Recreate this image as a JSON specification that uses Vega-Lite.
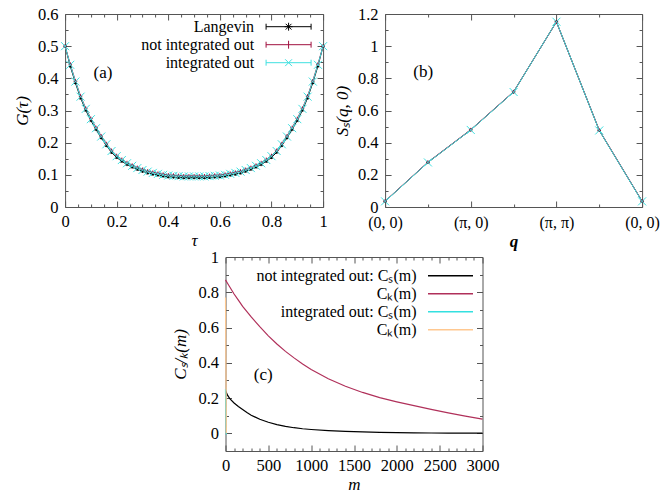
{
 "$schema": "https://vega.github.io/schema/vega-lite/v6.json",
 "padding": {"left": 12, "top": 5, "right": 5, "bottom": 5},
 "spacing": -2,
 "center": true,
 "resolve": {"scale": {"color": "independent", "shape": "independent"}, "legend": {"color": "independent", "shape": "independent"}},
 "datasets": {
  "a": [
   {"t":0,"s1":0.5,"s2":0.5,"s3":0.5},
   {"t":0.02,"s1":0.438,"s2":0.444,"s3":0.442},
   {"t":0.04,"s1":0.386,"s2":0.392,"s3":0.39},
   {"t":0.06,"s1":0.339,"s2":0.345,"s3":0.343},
   {"t":0.08,"s1":0.301,"s2":0.307,"s3":0.305},
   {"t":0.1,"s1":0.269,"s2":0.275,"s3":0.273},
   {"t":0.12,"s1":0.241,"s2":0.247,"s3":0.245},
   {"t":0.14,"s1":0.215,"s2":0.221,"s3":0.219},
   {"t":0.16,"s1":0.191,"s2":0.197,"s3":0.195},
   {"t":0.18,"s1":0.17,"s2":0.176,"s3":0.174},
   {"t":0.2,"s1":0.154,"s2":0.16,"s3":0.158},
   {"t":0.22,"s1":0.142,"s2":0.148,"s3":0.146},
   {"t":0.24,"s1":0.132,"s2":0.138,"s3":0.136},
   {"t":0.26,"s1":0.124,"s2":0.13,"s3":0.128},
   {"t":0.28,"s1":0.117,"s2":0.123,"s3":0.121},
   {"t":0.3,"s1":0.111,"s2":0.117,"s3":0.115},
   {"t":0.32,"s1":0.106,"s2":0.112,"s3":0.11},
   {"t":0.34,"s1":0.102,"s2":0.108,"s3":0.106},
   {"t":0.36,"s1":0.099,"s2":0.105,"s3":0.103},
   {"t":0.38,"s1":0.096,"s2":0.102,"s3":0.1},
   {"t":0.4,"s1":0.094,"s2":0.1,"s3":0.098},
   {"t":0.42,"s1":0.093,"s2":0.099,"s3":0.097},
   {"t":0.44,"s1":0.092,"s2":0.098,"s3":0.096},
   {"t":0.46,"s1":0.091,"s2":0.097,"s3":0.095},
   {"t":0.48,"s1":0.091,"s2":0.097,"s3":0.095},
   {"t":0.5,"s1":0.091,"s2":0.097,"s3":0.095},
   {"t":0.52,"s1":0.091,"s2":0.097,"s3":0.095},
   {"t":0.54,"s1":0.091,"s2":0.097,"s3":0.095},
   {"t":0.56,"s1":0.092,"s2":0.098,"s3":0.096},
   {"t":0.58,"s1":0.093,"s2":0.099,"s3":0.097},
   {"t":0.6,"s1":0.094,"s2":0.1,"s3":0.098},
   {"t":0.62,"s1":0.096,"s2":0.102,"s3":0.1},
   {"t":0.64,"s1":0.099,"s2":0.105,"s3":0.103},
   {"t":0.66,"s1":0.102,"s2":0.108,"s3":0.106},
   {"t":0.68,"s1":0.106,"s2":0.112,"s3":0.11},
   {"t":0.7,"s1":0.111,"s2":0.117,"s3":0.115},
   {"t":0.72,"s1":0.117,"s2":0.123,"s3":0.121},
   {"t":0.74,"s1":0.124,"s2":0.13,"s3":0.128},
   {"t":0.76,"s1":0.132,"s2":0.138,"s3":0.136},
   {"t":0.78,"s1":0.142,"s2":0.148,"s3":0.146},
   {"t":0.8,"s1":0.154,"s2":0.16,"s3":0.158},
   {"t":0.82,"s1":0.17,"s2":0.176,"s3":0.174},
   {"t":0.84,"s1":0.191,"s2":0.197,"s3":0.195},
   {"t":0.86,"s1":0.215,"s2":0.221,"s3":0.219},
   {"t":0.88,"s1":0.241,"s2":0.247,"s3":0.245},
   {"t":0.9,"s1":0.269,"s2":0.275,"s3":0.273},
   {"t":0.92,"s1":0.301,"s2":0.307,"s3":0.305},
   {"t":0.94,"s1":0.339,"s2":0.345,"s3":0.343},
   {"t":0.96,"s1":0.386,"s2":0.392,"s3":0.39},
   {"t":0.98,"s1":0.438,"s2":0.444,"s3":0.442},
   {"t":1,"s1":0.5,"s2":0.5,"s3":0.5}
  ],
  "b": [
   {"i":0,"s1":0.035,"s2":0.037,"s3":0.035},
   {"i":1,"s1":0.277,"s2":0.279,"s3":0.277},
   {"i":2,"s1":0.479,"s2":0.481,"s3":0.479},
   {"i":3,"s1":0.715,"s2":0.717,"s3":0.715},
   {"i":4,"s1":1.152,"s2":1.15,"s3":1.152},
   {"i":5,"s1":0.476,"s2":0.478,"s3":0.476},
   {"i":6,"s1":0.035,"s2":0.037,"s3":0.035}
  ],
  "c": [
   {"m":0,"c1":0.243,"c2":0.87,"c3":0.25,"c4":0.77},
   {"m":10,"c1":0.232,"c2":0.862,"c3":-0.006,"c4":0},
   {"m":25,"c1":0.215,"c2":0.85},
   {"m":50,"c1":0.197,"c2":0.83},
   {"m":100,"c1":0.172,"c2":0.79},
   {"m":150,"c1":0.152,"c2":0.755},
   {"m":200,"c1":0.135,"c2":0.72},
   {"m":250,"c1":0.118,"c2":0.69},
   {"m":300,"c1":0.103,"c2":0.66},
   {"m":400,"c1":0.08,"c2":0.605},
   {"m":500,"c1":0.063,"c2":0.553,"c3":-0.006,"c4":0},
   {"m":600,"c1":0.05,"c2":0.507},
   {"m":700,"c1":0.04,"c2":0.465},
   {"m":800,"c1":0.032,"c2":0.428},
   {"m":900,"c1":0.026,"c2":0.393},
   {"m":1000,"c1":0.022,"c2":0.362,"c3":-0.006,"c4":0},
   {"m":1200,"c1":0.016,"c2":0.31},
   {"m":1400,"c1":0.011,"c2":0.267},
   {"m":1600,"c1":0.008,"c2":0.232},
   {"m":1800,"c1":0.006,"c2":0.203},
   {"m":2000,"c1":0.004,"c2":0.179,"c3":-0.006,"c4":0},
   {"m":2200,"c1":0.003,"c2":0.157},
   {"m":2400,"c1":0.002,"c2":0.136},
   {"m":2600,"c1":0.001,"c2":0.116},
   {"m":2800,"c1":0.001,"c2":0.098},
   {"m":3000,"c1":0.001,"c2":0.081,"c3":-0.006,"c4":0}
  ]
 },
 "vconcat": [
  {
   "spacing": 2,
   "resolve": {"scale": {"color": "independent", "shape": "independent"}, "legend": {"color": "independent", "shape": "independent"}},
   "hconcat": [
    {
     "width": 258, "height": 193,
     "layer": [
      {
       "data": {"name": "a"},
       "transform": [{"fold": ["s1","s2","s3"], "as": ["series","G"]}],
       "mark": {"type": "line", "strokeWidth": 1},
       "encoding": {
        "x": {"field": "t", "type": "quantitative", "scale": {"domain": [0,1], "nice": false},
         "axis": {"values": [0,0.05,0.1,0.15,0.2,0.25,0.3,0.35,0.4,0.45,0.5,0.55,0.6,0.65,0.7,0.75,0.8,0.85,0.9,0.95,1], "titlePadding": 0, "labelPadding": 12,
          "labelExpr": "abs(datum.value*5-round(datum.value*5))<1e-6 ? format(datum.value,'.1~f') : ''",
          "tickSize": {"condition": {"test": "abs(datum.value*5-round(datum.value*5))<1e-6", "value": -6}, "value": -3},
          "title": "τ"}},
        "y": {"field": "G", "type": "quantitative", "scale": {"domain": [0,0.6], "nice": false},
         "axis": {"values": [0,0.05,0.1,0.15,0.2,0.25,0.3,0.35,0.4,0.45,0.5,0.55,0.6], "labelPadding": 13, "titlePadding": 6,
          "labelExpr": "abs(datum.value*10-round(datum.value*10))<1e-6 ? format(datum.value,'.1~f') : ''",
          "tickSize": {"condition": {"test": "abs(datum.value*10-round(datum.value*10))<1e-6", "value": -6}, "value": -3},
          "title": "G(τ)"}},
        "color": {"field": "series", "type": "nominal", "scale": {"domain": ["s1","s2","s3"], "range": ["#000000","#a0103f","#40e0e0"]},
         "legend": {"orient": "none", "legendX": 214, "legendY": 3.2, "title": null,
          "labelExpr": "datum.value === 's1' ? 'Langevin' : datum.value === 's2' ? 'not integrated out' : 'integrated out'",
          "symbolType": "M-2.5,0H2.5", "symbolSize": 324, "rowPadding": 0, "labelAlign": "right", "labelOffset": -44, "padding": 0,
          "symbolStrokeWidth": 1, "labelLimit": 400, "labelFontSize": 16,
          "encode": {"symbols": {"update": {"shape": {"signal": "datum.value === 's1' ? 'M-2.5,0H2.5M-2.5,-0.33V0.33M2.5,-0.33V0.33M-0.44,0H0.44M0,-0.44V0.44M-0.32,-0.32L0.32,0.32M-0.32,0.32L0.32,-0.32' : datum.value === 's2' ? 'M-2.5,0H2.5M-2.5,-0.33V0.33M2.5,-0.33V0.33M0,-0.44V0.44' : 'M-2.5,0H2.5M-2.5,-0.33V0.33M2.5,-0.33V0.33M-0.38,-0.38L0.38,0.38M-0.38,0.38L0.38,-0.38'"}, "fill": {"value": "transparent"}}}}}}
       }
      },
      {
       "data": {"name": "a"},
       "transform": [{"fold": ["s1","s2","s3"], "as": ["series","G"]}, {"filter": "datum.series === 's1'"}],
       "mark": {"type": "point", "size": 64, "strokeWidth": 1, "opacity": 1, "shape": "M-0.4,0H0.4M0,-0.4V0.4M-0.3,-0.3L0.3,0.3M-0.3,0.3L0.3,-0.3"},
       "encoding": {
        "x": {"field": "t", "type": "quantitative",
         "axis": {"orient": "top", "labels": false, "title": null, "values": [0,0.05,0.1,0.15,0.2,0.25,0.3,0.35,0.4,0.45,0.5,0.55,0.6,0.65,0.7,0.75,0.8,0.85,0.9,0.95,1],
          "tickSize": {"condition": {"test": "abs(datum.value*5-round(datum.value*5))<1e-6", "value": -6}, "value": -3}}},
        "y": {"field": "G", "type": "quantitative",
         "axis": {"orient": "right", "labels": false, "title": null, "values": [0,0.05,0.1,0.15,0.2,0.25,0.3,0.35,0.4,0.45,0.5,0.55,0.6],
          "tickSize": {"condition": {"test": "abs(datum.value*10-round(datum.value*10))<1e-6", "value": -6}, "value": -3}}},
        "color": {"field": "series", "type": "nominal", "legend": null}
       }
      },
      {
       "data": {"name": "a"},
       "transform": [{"fold": ["s1","s2","s3"], "as": ["series","G"]}, {"filter": "datum.series === 's2'"}],
       "mark": {"type": "point", "size": 64, "strokeWidth": 1, "opacity": 1, "shape": "M-0.45,0H0.45M0,-0.45V0.45"},
       "encoding": {
        "x": {"field": "t", "type": "quantitative", "axis": null},
        "y": {"field": "G", "type": "quantitative", "axis": null},
        "color": {"field": "series", "type": "nominal", "legend": null}
       }
      },
      {
       "data": {"name": "a"},
       "transform": [{"fold": ["s1","s2","s3"], "as": ["series","G"]}, {"filter": "datum.series === 's3'"}],
       "mark": {"type": "point", "size": 64, "strokeWidth": 1, "opacity": 1, "shape": "M-1,-1L1,1M-1,1L1,-1"},
       "encoding": {
        "x": {"field": "t", "type": "quantitative", "axis": null},
        "y": {"field": "G", "type": "quantitative", "axis": null},
        "color": {"field": "series", "type": "nominal", "legend": null}
       }
      },
      {
       "data": {"values": [{}]},
       "mark": {"type": "text", "text": "(a)", "fontSize": 17},
       "encoding": {
        "x": {"datum": 0.147, "type": "quantitative", "axis": null},
        "y": {"datum": 0.418, "type": "quantitative", "axis": null}
       }
      }
     ],
     "resolve": {"axis": {"x": "independent", "y": "independent"}}
    },
    {
     "width": 257, "height": 193,
     "layer": [
      {
       "data": {"name": "b"},
       "transform": [{"fold": ["s1","s2","s3"], "as": ["series","v"]}],
       "mark": {"type": "line", "strokeWidth": 1},
       "encoding": {
        "x": {"field": "i", "type": "quantitative", "scale": {"domain": [0,6], "nice": false},
         "axis": {"values": [0,1,2,3,4,5,6], "titlePadding": 0, "labelPadding": 13, "labelFontSize": 16,
          "labelExpr": "datum.value == 2 ? '(π, 0)' : datum.value == 4 ? '(π, π)' : (datum.value == 0 || datum.value == 6) ? '(0, 0)' : ''",
          "tickSize": {"condition": {"test": "datum.value % 2 == 0", "value": -6}, "value": -3},
          "title": "q", "titleFontWeight": "bold"}},
        "y": {"field": "v", "type": "quantitative", "scale": {"domain": [0,1.2], "nice": false},
         "axis": {"values": [0,0.1,0.2,0.3,0.4,0.5,0.6,0.7,0.8,0.9,1,1.1,1.2], "labelPadding": 13, "titlePadding": 6,
          "labelExpr": "abs(datum.value*5-round(datum.value*5))<1e-6 ? format(datum.value,'.1~f') : ''",
          "tickSize": {"condition": {"test": "abs(datum.value*5-round(datum.value*5))<1e-6", "value": -6}, "value": -3},
          "title": "Sₛ(q, 0)"}},
        "color": {"field": "series", "type": "nominal", "legend": null, "scale": {"domain": ["s1","s2","s3"], "range": ["#000000","#a0103f","#40e0e0"]}}
       }
      },
      {
       "data": {"name": "b"},
       "transform": [{"fold": ["s1","s2","s3"], "as": ["series","v"]}, {"filter": "datum.series === 's1'"}],
       "mark": {"type": "point", "size": 64, "strokeWidth": 1, "opacity": 1, "shape": "M-0.4,0H0.4M0,-0.4V0.4M-0.3,-0.3L0.3,0.3M-0.3,0.3L0.3,-0.3"},
       "encoding": {
        "x": {"field": "i", "type": "quantitative",
         "axis": {"orient": "top", "labels": false, "title": null, "values": [0,1,2,3,4,5,6],
          "tickSize": {"condition": {"test": "datum.value % 2 == 0", "value": -6}, "value": -3}}},
        "y": {"field": "v", "type": "quantitative",
         "axis": {"orient": "right", "labels": false, "title": null, "values": [0,0.1,0.2,0.3,0.4,0.5,0.6,0.7,0.8,0.9,1,1.1,1.2],
          "tickSize": {"condition": {"test": "abs(datum.value*5-round(datum.value*5))<1e-6", "value": -6}, "value": -3}}},
        "color": {"field": "series", "type": "nominal", "legend": null}
       }
      },
      {
       "data": {"name": "b"},
       "transform": [{"fold": ["s1","s2","s3"], "as": ["series","v"]}, {"filter": "datum.series === 's2'"}],
       "mark": {"type": "point", "size": 64, "strokeWidth": 1, "opacity": 1, "shape": "M-0.45,0H0.45M0,-0.45V0.45"},
       "encoding": {
        "x": {"field": "i", "type": "quantitative", "axis": null},
        "y": {"field": "v", "type": "quantitative", "axis": null},
        "color": {"field": "series", "type": "nominal", "legend": null}
       }
      },
      {
       "data": {"name": "b"},
       "transform": [{"fold": ["s1","s2","s3"], "as": ["series","v"]}, {"filter": "datum.series === 's3'"}],
       "mark": {"type": "point", "size": 64, "strokeWidth": 1, "opacity": 1, "shape": "M-1,-1L1,1M-1,1L1,-1"},
       "encoding": {
        "x": {"field": "i", "type": "quantitative", "axis": null},
        "y": {"field": "v", "type": "quantitative", "axis": null},
        "color": {"field": "series", "type": "nominal", "legend": null}
       }
      },
      {
       "data": {"values": [{}]},
       "mark": {"type": "text", "text": "(b)", "fontSize": 17},
       "encoding": {
        "x": {"datum": 0.89, "type": "quantitative", "axis": null},
        "y": {"datum": 0.84, "type": "quantitative", "axis": null}
       }
      }
     ],
     "resolve": {"axis": {"x": "independent", "y": "independent"}}
    }
   ]
  },
  {
   "width": 257, "height": 194,
   "layer": [
    {
     "data": {"name": "c"},
     "transform": [{"fold": ["c1","c2","c3","c4"], "as": ["series","v"]}, {"filter": "datum.series === 'c1' || datum.series === 'c2'"}],
     "mark": {"type": "line", "strokeWidth": 1.2},
     "encoding": {
      "x": {"field": "m", "type": "quantitative", "scale": {"domain": [0,3000], "nice": false},
       "axis": {"values": [0,100,200,300,400,500,600,700,800,900,1000,1100,1200,1300,1400,1500,1600,1700,1800,1900,2000,2100,2200,2300,2400,2500,2600,2700,2800,2900,3000], "labelPadding": 12,
        "labelExpr": "datum.value % 500 == 0 ? format(datum.value,'d') : ''",
        "tickSize": {"condition": {"test": "datum.value % 500 == 0", "value": -6}, "value": -3},
        "title": "m", "titlePadding": 0}},
      "y": {"field": "v", "type": "quantitative", "scale": {"domain": [-0.1,1], "nice": false, "zero": false},
       "axis": {"values": [-0.1,0,0.1,0.2,0.3,0.4,0.5,0.6,0.7,0.8,0.9,1], "labelPadding": 13, "titlePadding": 8,
        "labelExpr": "datum.value >= 0 && abs(datum.value*5-round(datum.value*5))<1e-6 ? format(datum.value,'.1~f') : ''",
        "tickSize": {"condition": {"test": "abs(datum.value*5-round(datum.value*5))<1e-6", "value": -6}, "value": -3},
        "title": "Cₛ/ₖ(m)"}},
      "color": {"field": "series", "type": "nominal",
       "scale": {"domain": ["c1","c2","c3","c4"], "range": ["#000000","#b0305a","#33e0e0","#ffc890"]},
       "legend": {"orient": "none", "legendX": 215, "legendY": 8.8, "title": null,
        "labelExpr": "datum.value === 'c1' ? 'not integrated out: Cₛ(m)' : datum.value === 'c2' ? 'Cₖ(m)' : datum.value === 'c3' ? 'integrated out: Cₛ(m)' : 'Cₖ(m)'",
        "symbolType": "M-2.5,0H2.5", "symbolSize": 324, "symbolStrokeWidth": 1.6, "rowPadding": 0,
        "labelAlign": "right", "labelOffset": -44, "padding": 0, "labelLimit": 400, "labelFontSize": 16}}
     }
    },
    {
     "data": {"name": "c"},
     "transform": [{"fold": ["c1","c2","c3","c4"], "as": ["series","v"]}, {"filter": "datum.series === 'c3' || datum.series === 'c4'"}],
     "mark": {"type": "line", "strokeWidth": 1.2},
     "encoding": {
      "x": {"field": "m", "type": "quantitative",
       "axis": {"orient": "top", "labels": false, "title": null, "values": [0,100,200,300,400,500,600,700,800,900,1000,1100,1200,1300,1400,1500,1600,1700,1800,1900,2000,2100,2200,2300,2400,2500,2600,2700,2800,2900,3000],
        "tickSize": {"condition": {"test": "datum.value % 500 == 0", "value": -6}, "value": -3}}},
      "y": {"field": "v", "type": "quantitative",
       "axis": {"orient": "right", "labels": false, "title": null, "values": [-0.1,0,0.1,0.2,0.3,0.4,0.5,0.6,0.7,0.8,0.9,1],
        "tickSize": {"condition": {"test": "abs(datum.value*5-round(datum.value*5))<1e-6", "value": -6}, "value": -3}}},
      "color": {"field": "series", "type": "nominal"}
     }
    },
    {
     "data": {"values": [{}]},
     "mark": {"type": "text", "text": "(c)", "fontSize": 17},
     "encoding": {
      "x": {"datum": 440, "type": "quantitative", "axis": null},
      "y": {"datum": 0.33, "type": "quantitative", "axis": null}
     }
    }
   ],
   "resolve": {"axis": {"x": "independent", "y": "independent"}}
  }
 ],
 "config": {
  "font": "Liberation Serif",
  "view": {"stroke": "#555555", "strokeWidth": 1},
  "axis": {"domain": false, "grid": false, "labelFont": "Liberation Serif", "labelFontSize": 16.5, "labelColor": "#000000",
   "titleFont": "Liberation Serif", "titleFontSize": 17, "titleFontWeight": "normal", "titleFontStyle": "italic", "titleColor": "#000000",
   "tickColor": "#555555", "labelFlush": false, "labelOverlap": false, "labelPadding": 10},
  "legend": {"labelFont": "Liberation Serif", "labelFontSize": 16, "labelColor": "#000000"},
  "text": {"font": "Liberation Serif", "fontSize": 17, "color": "#000000"}
 }
}
